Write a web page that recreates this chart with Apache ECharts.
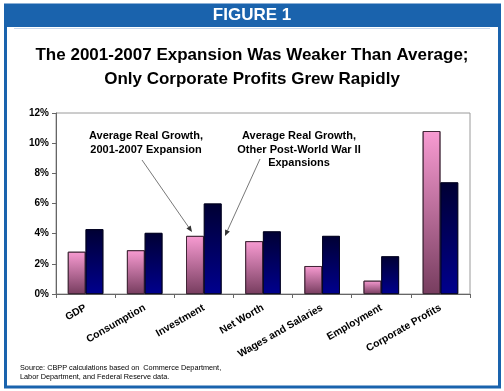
<!DOCTYPE html>
<html>
<head>
<meta charset="utf-8">
<script src="https://cdn.jsdelivr.net/npm/echarts@6/dist/echarts.min.js"></script>
<style>
html,body{margin:0;padding:0;background:#fff;}
#chart{width:504px;height:391px;}
</style>
</head>
<body>
<div id="chart"></div>
<script>
const categories = ['GDP', 'Consumption', 'Investment', 'Net Worth', 'Wages and Salaries', 'Employment', 'Corporate Profits'];
const growth20012007 = [2.8, 2.9, 3.85, 3.5, 1.85, 0.88, 10.8];
const growthOtherPostWar = [4.3, 4.05, 6.0, 4.15, 3.85, 2.5, 7.4];
const yMin = 0, yMax = 12, yStep = 2;

const chart = echarts.init(document.getElementById('chart'), null, {renderer: 'canvas'});
const blue = '#1a63ad';
const font = 'Liberation Sans, Arial, sans-serif';

const option = {
  backgroundColor: '#fff',
  animation: false,
  grid: {left: 56, right: 34, top: 113, bottom: 97, show: true, borderColor: '#9a9a9a', borderWidth: 1},
  xAxis: {
    type: 'category',
    data: categories,
    axisLine: {lineStyle: {color: '#666', width: 1}},
    axisTick: {show: true, length: 4, lineStyle: {color: '#666'}},
    axisLabel: {interval: 0, rotate: 30, fontFamily: font, fontWeight: 'bold', fontSize: 10.3, color: '#000', margin: 13}
  },
  yAxis: {
    type: 'value',
    min: yMin, max: yMax, interval: yStep,
    splitLine: {show: false},
    axisLine: {show: true, lineStyle: {color: '#666', width: 1}},
    axisTick: {show: true, length: 4, lineStyle: {color: '#666'}},
    axisLabel: {formatter: v => v + '%', fontFamily: font, fontWeight: 'bold', fontSize: 10, color: '#000', margin: 7}
  },
  series: [
    {
      name: 'Average Real Growth, 2001-2007 Expansion',
      type: 'bar',
      data: growth20012007,
      barGap: '0%',
      barCategoryGap: '40%',
      itemStyle: {
        borderColor: '#3a2030', borderWidth: 0.8,
        color: new echarts.graphic.LinearGradient(0, 0, 0, 1, [
          {offset: 0, color: '#f89bd2'},
          {offset: 1, color: '#773d5f'}
        ], false)
      }
    },
    {
      name: 'Average Real Growth, Other Post-World War II Expansions',
      type: 'bar',
      data: growthOtherPostWar,
      itemStyle: {
        borderColor: '#000020', borderWidth: 0.8,
        color: new echarts.graphic.LinearGradient(0, 0, 0, 1, [
          {offset: 0, color: '#000033'},
          {offset: 1, color: '#00008e'}
        ], false)
      }
    }
  ],
  graphic: [
    {type: 'rect', shape: {x: 5.5, y: 5, width: 494, height: 382}, style: {fill: 'none', stroke: blue, lineWidth: 3}, z: 10},
    {type: 'rect', shape: {x: 4, y: 4, width: 497, height: 23}, style: {fill: blue}, z: 11},
    {type: 'line', shape: {x1: 14, y1: 28.5, x2: 490, y2: 28.5}, style: {stroke: '#c8d8ec', lineWidth: 1}, z: 11},
    {type: 'text', x: 252, y: 15.5, style: {text: 'FIGURE 1', fill: '#fff', font: 'bold 17px ' + font, textAlign: 'center', textVerticalAlign: 'middle'}, z: 12},
    {type: 'text', x: 252, y: 55, style: {text: 'The 2001-2007 Expansion Was Weaker Than Average;', fill: '#000', font: 'bold 17px ' + font, textAlign: 'center', textVerticalAlign: 'middle'}, z: 12},
    {type: 'text', x: 252, y: 79, style: {text: 'Only Corporate Profits Grew Rapidly', fill: '#000', font: 'bold 17px ' + font, textAlign: 'center', textVerticalAlign: 'middle'}, z: 12},
    {type: 'text', x: 146, y: 129.5, style: {text: 'Average Real Growth,\n2001-2007 Expansion', fill: '#000', font: 'bold 11px ' + font, textAlign: 'center', textVerticalAlign: 'top', lineHeight: 13.5}, z: 12},
    {type: 'text', x: 299, y: 129.5, style: {text: 'Average Real Growth,\nOther Post-World War II\nExpansions', fill: '#000', font: 'bold 11px ' + font, textAlign: 'center', textVerticalAlign: 'top', lineHeight: 13.5}, z: 12},
    {type: 'text', x: 20, y: 363, style: {text: 'Source: CBPP calculations based on  Commerce Department,\nLabor Department, and Federal Reserve data.', fill: '#000', font: '7.3px ' + font, textAlign: 'left', textVerticalAlign: 'top', lineHeight: 9}, z: 12}
  ]
};
chart.setOption(option);

function arrow(x1, y1, x2, y2) {
  const ang = Math.atan2(y2 - y1, x2 - x1);
  const L = 6, W = 2.6;
  const bx = x2 - L * Math.cos(ang), by = y2 - L * Math.sin(ang);
  const px = -Math.sin(ang) * W, py = Math.cos(ang) * W;
  return [
    {type: 'line', shape: {x1: x1, y1: y1, x2: bx, y2: by}, style: {stroke: '#555', lineWidth: 0.8}, z: 12},
    {type: 'polygon', shape: {points: [[x2, y2], [bx + px, by + py], [bx - px, by - py]]}, style: {fill: '#333'}, z: 12}
  ];
}
const g = option.graphic.concat(arrow(142, 160, 192, 232), arrow(260, 159, 225, 236));
chart.setOption({graphic: g});
</script>
</body>
</html>
